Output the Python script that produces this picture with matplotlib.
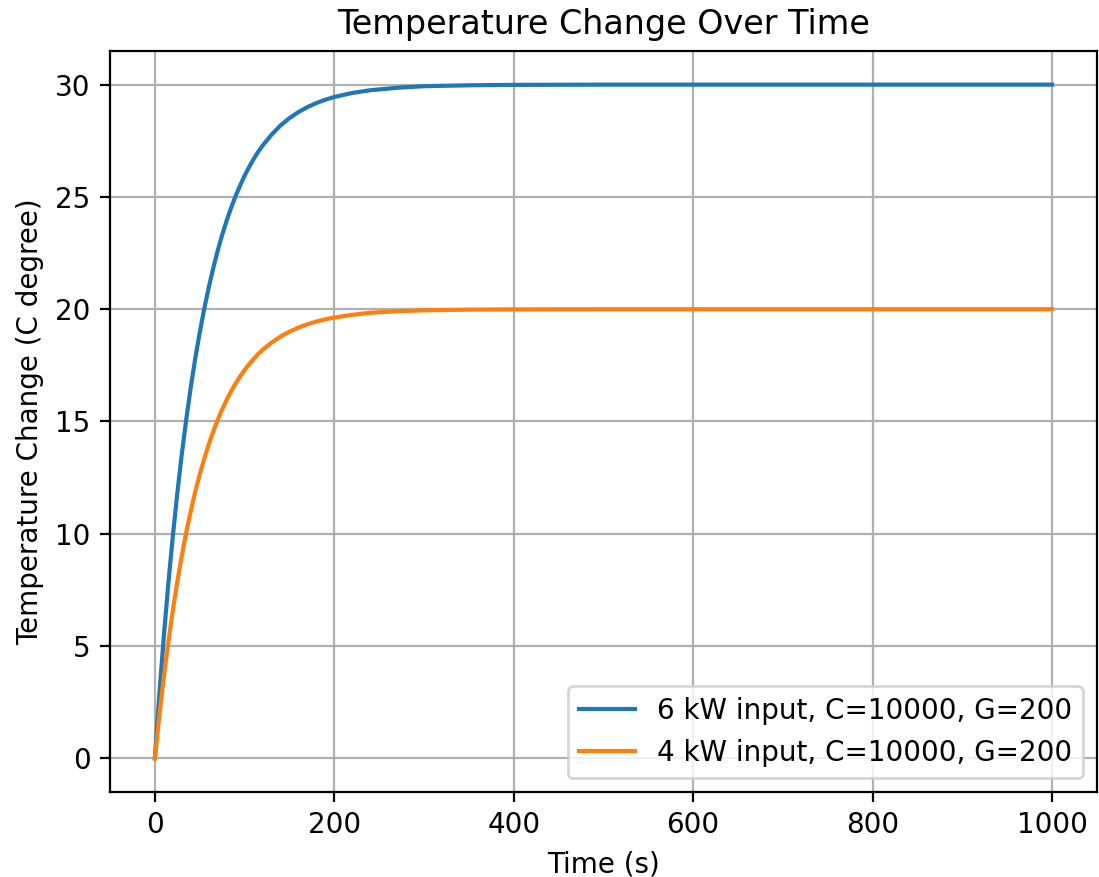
import matplotlib
matplotlib.use("Agg")
from matplotlib import pyplot as plt

# time samples (s) and temperature change
t = [0, 5, 10, 15, 20, 25, 30, 35, 40, 45, 50, 55, 60, 65, 70, 75, 80, 85, 90, 95,
     100, 105, 110, 115, 120, 130, 140, 150, 160, 170, 180, 190, 200, 220, 240,
     270, 300, 350, 400, 500, 600, 700, 800, 900, 1000]
temp_6kw = [0, 2.85, 5.44, 7.78, 9.89, 11.80, 13.54, 15.10, 16.52, 17.80, 18.96,
            20.01, 20.96, 21.82, 22.60, 23.31, 23.94, 24.52, 25.04, 25.51,
            25.94, 26.33, 26.68, 27.00, 27.28, 27.77, 28.18, 28.51, 28.78, 29.00,
            29.18, 29.33, 29.45, 29.63, 29.75, 29.86, 29.93, 29.97, 29.99, 30.0,
            30.0, 30.0, 30.0, 30.0, 30.0]
temp_4kw = [0, 1.90, 3.63, 5.18, 6.59, 7.87, 9.02, 10.07, 11.01, 11.87, 12.64,
            13.34, 13.98, 14.55, 15.07, 15.54, 15.96, 16.35, 16.69, 17.01,
            17.29, 17.55, 17.78, 18.00, 18.19, 18.51, 18.78, 19.00, 19.18, 19.33,
            19.45, 19.55, 19.63, 19.75, 19.84, 19.91, 19.95, 19.98, 19.99, 20.0,
            20.0, 20.0, 20.0, 20.0, 20.0]
labels = ["6 kW input, C=10000, G=200", "4 kW input, C=10000, G=200"]

dpi = 200
fig = plt.figure(figsize=(1099 / dpi, 877 / dpi), dpi=dpi)
ax = fig.add_axes([0.1001, 0.0969, 0.898, 0.845])

ax.plot(t, temp_6kw, label=labels[0])
ax.plot(t, temp_4kw, label=labels[1])

ax.set_title("Temperature Change Over Time")
ax.set_xlabel("Time (s)")
ax.set_ylabel("Temperature Change (C degree)")
ax.grid(True)
ax.legend(loc="lower right")

fig.savefig("out.png", dpi=dpi)
